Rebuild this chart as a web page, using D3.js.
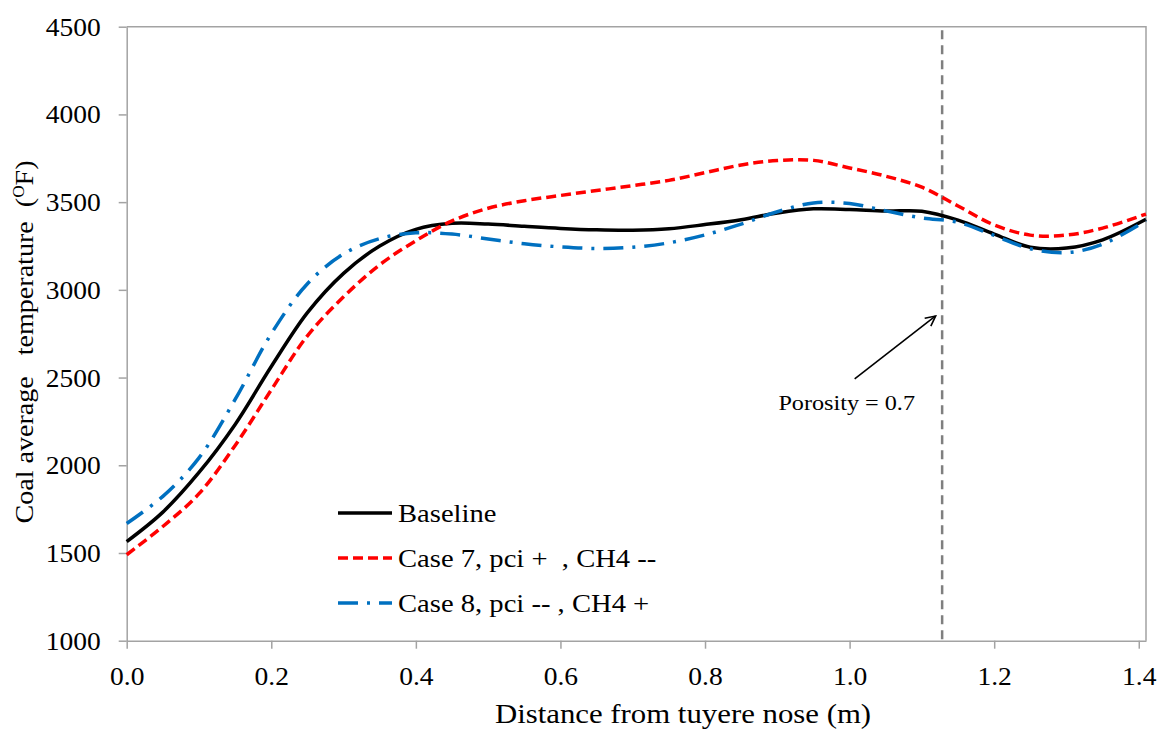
<!DOCTYPE html>
<html>
<head>
<meta charset="utf-8">
<script src="https://cdn.jsdelivr.net/npm/d3@7"></script>
<style>
  body { margin: 0; background: #fff; }
  text { font-family: "Liberation Serif", "Times New Roman", serif; fill: #000; }
</style>
</head>
<body>
<svg id="chart" width="1159" height="734"></svg>
<script>
// Distance from tuyere nose (m) at which the temperatures are sampled
const distance = [0, 0.05, 0.1, 0.15, 0.2, 0.25, 0.3, 0.35, 0.4, 0.45, 0.5, 0.55, 0.6, 0.65, 0.7,
                  0.75, 0.8, 0.85, 0.9, 0.95, 1.0, 1.05, 1.1, 1.15, 1.2, 1.25, 1.3, 1.35, 1.41];

// Coal average temperature (°F) for each case
const baseline = [1565, 1733, 1959, 2233, 2563, 2870, 3094, 3250, 3345, 3379, 3375, 3362, 3350, 3342, 3340,
                  3348, 3372, 3400, 3438, 3462, 3458, 3449, 3448, 3397, 3318, 3243, 3238, 3285, 3402];
const case7 = [1490, 1651, 1838, 2113, 2430, 2738, 2960, 3143, 3280, 3393, 3465, 3508, 3538, 3566, 3594,
               3624, 3668, 3712, 3737, 3738, 3695, 3648, 3585, 3478, 3370, 3312, 3312, 3352, 3432];
const case8 = [1668, 1823, 2042, 2375, 2750, 3035, 3205, 3292, 3325, 3318, 3290, 3263, 3245, 3236, 3243,
               3268, 3313, 3375, 3445, 3495, 3492, 3450, 3410, 3385, 3310, 3234, 3212, 3260, 3395];

const seriesNames = ["Baseline", "Case 7, pci +  , CH4 --", "Case 8, pci -- , CH4 +"];

const xTicks = [0, 0.2, 0.4, 0.6, 0.8, 1.0, 1.2, 1.4];
const yTicks = [1000, 1500, 2000, 2500, 3000, 3500, 4000, 4500];
const xDomain = [0, 1.41];
const yDomain = [1000, 4500];

// Porosity boundary and its annotation (data units)
const porosityX = 1.128;
const porosityLabel = "Porosity = 0.7";
const arrowFrom = [1.007, 2492];
const arrowTo = [1.119, 2851];
const labelAt = [0.996, 2315];

const W = 1159, H = 734;
const margin = { left: 126.7, top: 26.7, right: 13, bottom: 93.3 };
const svg = d3.select("#chart");

const x = d3.scaleLinear().domain(xDomain).range([margin.left, W - margin.right]);
const y = d3.scaleLinear().domain(yDomain).range([H - margin.bottom, margin.top]);

const axisColor = "#a3a3a3";
const K = 1.1; // horizontal glyph stretch of the serif text

function stretch(sel, k = K) {
  sel.each(function () {
    const t = d3.select(this);
    const tx = +t.attr("x") || 0, ty = +t.attr("y") || 0;
    t.attr("x", 0).attr("y", 0).attr("transform", `translate(${tx},${ty}) scale(${k},1)`);
  });
}

// Plot frame (top and right edges)
svg.append("path")
  .attr("d", `M${x(xDomain[0])},${y(yDomain[1])}H${x(xDomain[1])}V${y(yDomain[0])}`)
  .attr("fill", "none").attr("stroke", axisColor).attr("stroke-width", 1.5);

// Y axis
const gy = svg.append("g").attr("transform", `translate(${x(xDomain[0])},0)`)
  .call(d3.axisLeft(y).tickValues(yTicks).tickSize(8).tickSizeOuter(0).tickPadding(18).tickFormat(d3.format("d")));
gy.attr("font-family", null);
gy.select(".domain").attr("stroke", axisColor).attr("stroke-width", 1.5);
gy.selectAll(".tick line").attr("stroke", axisColor).attr("stroke-width", 1.5);
gy.selectAll(".tick text").attr("font-size", 25).attr("dy", "0.34em");
stretch(gy.selectAll(".tick text"));

// X axis
const gx = svg.append("g").attr("transform", `translate(0,${y(yDomain[0])})`)
  .call(d3.axisBottom(x).tickValues(xTicks).tickSize(8).tickSizeOuter(0).tickFormat(d3.format(".1f")));
gx.attr("font-family", null);
gx.select(".domain").attr("stroke", axisColor).attr("stroke-width", 1.5);
gx.selectAll(".tick line").attr("stroke", axisColor).attr("stroke-width", 1.5);
gx.selectAll(".tick text").attr("font-size", 25).attr("y", 44).attr("dy", 0);
stretch(gx.selectAll(".tick text"));

// Porosity boundary
svg.append("line")
  .attr("x1", x(porosityX)).attr("x2", x(porosityX))
  .attr("y1", y(4480)).attr("y2", y(yDomain[0]))
  .attr("stroke", "#7f7f7f").attr("stroke-width", 2.5).attr("stroke-dasharray", "9,6");

// Series
const styles = [
  { values: baseline, color: "#000000", dash: null },
  { values: case7, color: "#ff0000", dash: "10,5" },
  { values: case8, color: "#0070c0", dash: "20,9,3,9" }
];
const line = d3.line().x(d => x(d[0])).y(d => y(d[1])).curve(d3.curveCatmullRom.alpha(0.5));
styles.forEach(s => {
  svg.append("path")
    .datum(distance.map((d, i) => [d, s.values[i]]))
    .attr("d", line)
    .attr("fill", "none")
    .attr("stroke", s.color)
    .attr("stroke-width", 3.5)
    .attr("stroke-dasharray", s.dash);
});

// Annotation arrow
svg.append("defs").append("marker")
  .attr("id", "arrowhead").attr("viewBox", "0 0 12 12").attr("refX", 11).attr("refY", 6)
  .attr("markerWidth", 12).attr("markerHeight", 12).attr("markerUnits", "userSpaceOnUse")
  .attr("orient", "auto")
  .append("path").attr("d", "M1,1L11,6L1,11").attr("fill", "none").attr("stroke", "#000").attr("stroke-width", 1.6);
svg.append("line")
  .attr("x1", x(arrowFrom[0])).attr("y1", y(arrowFrom[1]))
  .attr("x2", x(arrowTo[0])).attr("y2", y(arrowTo[1]))
  .attr("stroke", "#000").attr("stroke-width", 1.6).attr("marker-end", "url(#arrowhead)");
svg.append("text")
  .attr("x", x(labelAt[0])).attr("y", y(labelAt[1]))
  .attr("text-anchor", "middle").attr("font-size", 22)
  .text(porosityLabel)
  .call(stretch);

// Legend
const legendRows = [513, 558, 603];
styles.forEach((s, i) => {
  svg.append("line")
    .attr("x1", 338).attr("x2", 392).attr("y1", legendRows[i]).attr("y2", legendRows[i])
    .attr("stroke", s.color).attr("stroke-width", 3.5).attr("stroke-dasharray", s.dash);
  svg.append("text")
    .attr("x", 398).attr("y", legendRows[i] + 9)
    .attr("font-size", 26).style("white-space", "pre")
    .text(seriesNames[i])
    .call(stretch);
});

// Axis titles
svg.append("text")
  .attr("x", 683).attr("y", 723).attr("text-anchor", "middle").attr("font-size", 28)
  .text("Distance from tuyere nose (m)")
  .call(stretch);

const yTitle = svg.append("text")
  .attr("transform", "translate(33,342) rotate(-90) scale(1.08,1)")
  .attr("text-anchor", "middle").attr("font-size", 26).style("white-space", "pre");
yTitle.append("tspan").text("Coal average   temperature  (");
yTitle.append("tspan").attr("font-size", 16).attr("dy", -9).text("O");
yTitle.append("tspan").attr("dy", 9).text("F)");
</script>
</body>
</html>
